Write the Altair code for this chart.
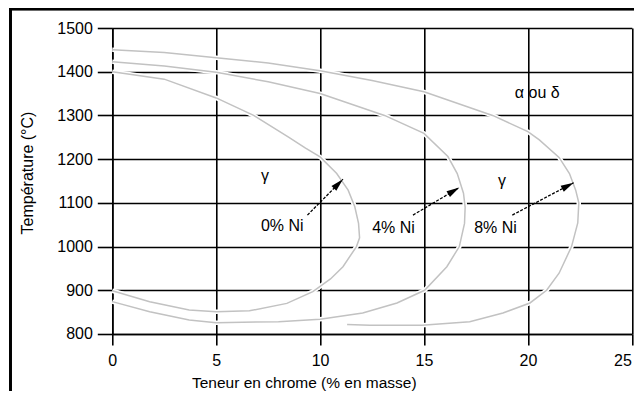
import math
import altair as alt
import pandas as pd

# ---- data ----
x_ticks = [0, 5, 10, 15, 20, 25]
y_ticks = [800, 900, 1000, 1100, 1200, 1300, 1400, 1500]

cr_0 = [0, 2.5, 5, 6.8, 8.5, 9.3, 10, 10.8, 11.35, 11.67, 11.85, 11.9, 11.75, 11.1, 10.5,
        9.65, 8.4, 6.6, 5, 3.7, 1.8, 0]
t_0 = [1400, 1383, 1340, 1300, 1250, 1225, 1205, 1167, 1129, 1091, 1053, 1020, 1000, 954, 926,
       897, 870, 853, 851, 855, 874, 899]

cr_4 = [0, 2.5, 5, 7.5, 10, 13.1, 15, 16.15, 16.6, 16.9, 16.98, 16.95, 16.7, 16.1, 15.03,
        13.7, 12.05, 10, 8, 5, 3.7, 1.8, 0]
t_4 = [1423, 1413, 1399, 1377, 1350, 1300, 1259, 1206, 1167, 1122, 1090, 1053, 1000, 954, 900,
       871, 848, 834, 828, 826, 832, 851, 874]

cr_8 = [0, 2.5, 5, 7.5, 10, 12.5, 15, 18.3, 20, 20.55, 21.5, 22.0, 22.3, 22.45, 22.4, 22.1,
        21.5, 20.9, 20.1, 18.8, 17.2, 14.9, 12.4, 11.3]
t_8 = [1450, 1444, 1432, 1420, 1402, 1380, 1354, 1300, 1263, 1244, 1204, 1167, 1129, 1100, 1054,
       1000, 939, 900, 871, 848, 828, 820, 820, 822]

phase_labels = ["γ", "γ", "α ou δ"]
phase_cr = [7.35, 18.75, 20.45]
phase_t = [1161, 1150, 1352]

ni_labels = ["0% Ni", "4% Ni", "8% Ni"]
ni_cr = [8.18, 13.53, 18.44]
ni_t = [1047, 1043, 1043]

arrow_cr_start = [9.39, 14.47, 19.25]
arrow_t_start = [1072, 1072, 1072]
arrow_cr_end = [11.1, 16.7, 22.2]
arrow_t_end = [1154, 1135, 1146]

# ---- build tables ----
rows = []
for name, crs, ts in [("0% Ni", cr_0, t_0), ("4% Ni", cr_4, t_4), ("8% Ni", cr_8, t_8)]:
    for i, (c, t) in enumerate(zip(crs, ts)):
        rows.append({"curve": name, "cr": c, "t": t, "order": i})
curves = pd.DataFrame(rows)

W, H = 519.5, 306
XMIN, XMAX, YMIN, YMAX = 0, 25, 800, 1500
sx = W / (XMAX - XMIN)
sy = H / (YMAX - YMIN)

arrows = pd.DataFrame({
    "cr": arrow_cr_start, "t": arrow_t_start,
    "cr2": arrow_cr_end, "t2": arrow_t_end,
})
arrows["angle"] = [
    math.degrees(math.atan2((c2 - c1) * sx, (t2 - t1) * sy))
    for c1, t1, c2, t2 in zip(arrow_cr_start, arrow_t_start, arrow_cr_end, arrow_t_end)
]
phases = pd.DataFrame({"label": phase_labels, "cr": phase_cr, "t": phase_t})
nis = pd.DataFrame({"label": ni_labels, "cr": ni_cr, "t": ni_t})

FONT = "Liberation Sans"
xs = alt.Scale(domain=[XMIN, XMAX], nice=False, zero=False)
ys = alt.Scale(domain=[YMIN, YMAX], nice=False, zero=False)

x_axis = alt.Axis(
    values=x_ticks, format="d", title="Teneur en chrome (% en masse)",
    tickSize=11, labelPadding=8, titleX=191.5, titleY=49,
    titleBaseline="middle", titleAlign="center", titleFontSize=15.5,
    labelAlign={"condition": {"test": "datum.value == 25", "value": "right"}, "value": "center"},
    labelOffset={"condition": {"test": "datum.value == 25", "value": -0.5}, "value": 0},
)
y_axis = alt.Axis(values=y_ticks, format="d", title="Température (°C)",
                  tickSize=15, labelPadding=5, titleX=-84.5, titleY=144.5,
                  titleBaseline="middle", titleAlign="center")


def X(field):
    return alt.X(field, scale=xs, axis=x_axis)


def Y(field):
    return alt.Y(field, scale=ys, axis=y_axis)


halo = alt.Chart(curves).mark_line(color="white", strokeWidth=4.5).encode(
    x=X("cr:Q"), y=Y("t:Q"), detail="curve:N", order="order:Q",
)
lines = alt.Chart(curves).mark_line(color="#c2c2c2", strokeWidth=1.5).encode(
    x=X("cr:Q"), y=Y("t:Q"), detail="curve:N", order="order:Q",
)
arrow_lines = alt.Chart(arrows).mark_rule(color="black", strokeWidth=1.3, strokeDash=[3, 1.5]).encode(
    x=X("cr:Q"), y=Y("t:Q"), x2="cr2:Q", y2="t2:Q",
)
arrow_heads = alt.Chart(arrows).mark_point(
    shape="M0,0L0.45,1.7L-0.45,1.7Z", filled=True, color="black", opacity=1, size=230
).encode(
    x=X("cr2:Q"), y=Y("t2:Q"),
    angle=alt.Angle("angle:Q", scale=None),
)
phase_text = alt.Chart(phases).mark_text(font=FONT, fontSize=16, color="black").encode(
    x=X("cr:Q"), y=Y("t:Q"), text="label:N",
)
ni_text = alt.Chart(nis).mark_text(font=FONT, fontSize=16, color="black").encode(
    x=X("cr:Q"), y=Y("t:Q"), text="label:N",
)
frame_left = alt.Chart(phases).mark_rule(color="black", strokeWidth=2.5).encode(
    x=alt.value(-101.8), y=alt.value(-19.5), y2=alt.value(H + 60)
)
frame_top = alt.Chart(phases).mark_rule(color="black", strokeWidth=2.5).encode(
    x=alt.value(-103), x2=alt.value(W + 10), y=alt.value(-19)
)

chart = alt.layer(
    halo, lines, arrow_lines, arrow_heads, phase_text, ni_text, frame_left, frame_top
).properties(
    width=W, height=H,
    padding={"left": 104.3, "top": 20, "right": 2, "bottom": 57},
    autosize=alt.AutoSizeParams(type="none"),
).configure_view(
    stroke=None
).configure_axis(
    labelFont=FONT, titleFont=FONT, labelFontSize=16, titleFontSize=16,
    titleFontWeight="normal", labelColor="black", titleColor="black",
    domainColor="black", domainWidth=1.6, tickColor="black", tickWidth=1.6,
    gridColor="black", gridWidth=1.6, gridOpacity=1, grid=True,
)

chart.save("out.html", embed_options={"renderer": "svg", "actions": False})
